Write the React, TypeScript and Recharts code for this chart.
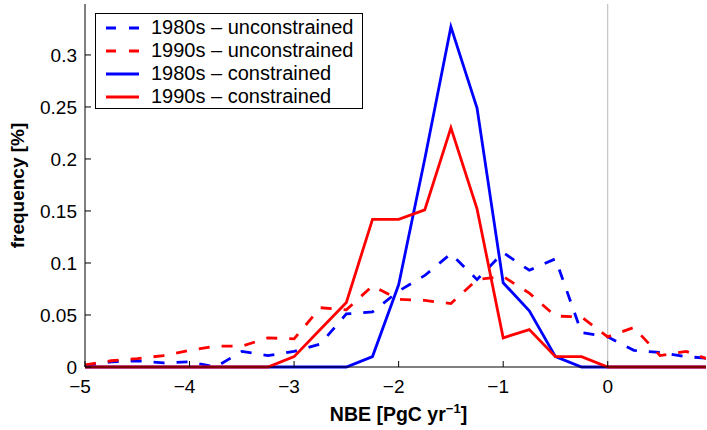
import { LineChart, Line, XAxis, YAxis, ReferenceLine, Legend, Label } from 'recharts';

// NBE bin centres [PgC/yr]
const nbe = [
  -5, -4.75, -4.5, -4.25, -4, -3.75, -3.5, -3.25, -3, -2.75, -2.5, -2.25,
  -2, -1.75, -1.5, -1.25, -1, -0.75, -0.5, -0.25, 0, 0.25, 0.5, 0.75, 1,
];

// frequency values
const unc1980s = [
  0.001, 0.005, 0.006, 0.004, 0.005, 0.0, 0.015, 0.011, 0.015, 0.022, 0.051, 0.053,
  0.073, 0.088, 0.109, 0.084, 0.11, 0.093, 0.104, 0.033, 0.029, 0.016, 0.014, 0.01, 0.008,
];
const unc1990s = [
  0.002, 0.006, 0.008, 0.011, 0.016, 0.02, 0.02, 0.028, 0.027, 0.057, 0.055, 0.078,
  0.065, 0.064, 0.061, 0.084, 0.087, 0.071, 0.049, 0.048, 0.029, 0.038, 0.011, 0.015, 0.006,
];
const con1980s = [
  0, 0, 0, 0, 0, 0, 0, 0, 0, 0, 0, 0.01,
  0.079, 0.2, 0.327, 0.249, 0.081, 0.054, 0.01, 0, 0, 0, 0, 0, 0,
];
const con1990s = [
  0, 0, 0, 0, 0, 0, 0, 0, 0.01, 0.036, 0.062, 0.142,
  0.142, 0.151, 0.23, 0.152, 0.028, 0.036, 0.01, 0.01, 0, 0, 0, 0, 0,
];

const xTicks = [-5, -4, -3, -2, -1, 0];
const yTicks = [0, 0.05, 0.1, 0.15, 0.2, 0.25, 0.3];

const data = nbe.map((x, i) => ({
  x,
  unc1980s: unc1980s[i],
  unc1990s: unc1990s[i],
  con1980s: con1980s[i],
  con1990s: con1990s[i],
}));

const series = [
  { key: 'unc1980s', name: '1980s \u2013 unconstrained', color: '#0000ff', dashed: true },
  { key: 'unc1990s', name: '1990s \u2013 unconstrained', color: '#ff0000', dashed: true },
  { key: 'con1980s', name: '1980s \u2013 constrained', color: '#0000ff', dashed: false },
  { key: 'con1990s', name: '1990s \u2013 constrained', color: '#ff0000', dashed: false },
];

const FONT = '"Liberation Sans", Arial, Helvetica, sans-serif';
const tickStyle = { fill: '#000', fontSize: 19, fontFamily: FONT };

// x tick label: minus sign, negative labels sit a little left like the original
const XTick = (props: any) => {
  const { x, y, payload } = props;
  const v = payload.value as number;
  return (
    <text
      x={v < 0 ? x - 5 : x}
      y={y}
      dy="0.71em"
      textAnchor="middle"
      fill="#000"
      fontSize={19}
      fontFamily={FONT}
    >
      {v < 0 ? '\u2212' + Math.abs(v) : String(v)}
    </text>
  );
};

const renderLegend = () => (
  <div
    style={{
      width: 268,
      height: 96,
      border: '1px solid #000',
      background: '#fff',
      boxSizing: 'border-box',
      fontFamily: FONT,
      fontSize: 20,
      color: '#000',
      paddingTop: 2,
    }}
  >
    {series.map((s) => (
      <div key={s.key} style={{ display: 'flex', alignItems: 'center', height: 23 }}>
        <svg width={33} height={4} style={{ marginLeft: 10, marginRight: 12 }}>
          <line
            x1={0}
            y1={2}
            x2={33}
            y2={2}
            stroke={s.color}
            strokeWidth={2.8}
            strokeDasharray={s.dashed ? '10 13' : undefined}
          />
        </svg>
        <span style={{ whiteSpace: 'nowrap' }}>{s.name}</span>
      </div>
    ))}
  </div>
);

const XTitle = (props: any) => {
  const vb = props.viewBox;
  return (
    <text
      x={vb.x + vb.width / 2 + 3}
      y={vb.y + 54}
      textAnchor="middle"
      fontFamily={FONT}
      fontSize={19.5}
      fontWeight="bold"
      fill="#000"
    >
      NBE [PgC yr
      <tspan dy={-8} fontSize={13}>
        {'\u22121'}
      </tspan>
      <tspan dy={8}>]</tspan>
    </text>
  );
};

const YTitle = (props: any) => {
  const vb = props.viewBox;
  const cx = 24;
  const cy = vb.y + vb.height / 2;
  return (
    <text
      x={cx}
      y={cy}
      transform={`rotate(-90, ${cx}, ${cy})`}
      textAnchor="middle"
      fontFamily={FONT}
      fontSize={19}
      fontWeight="bold"
      fill="#000"
    >
      frequency [%]
    </text>
  );
};

export default function App() {
  return (
    <div style={{ position: 'absolute', left: 0, top: 0, background: '#fff' }}>
      <LineChart width={707} height={430} data={data} margin={{ top: 4, right: 1, left: 0, bottom: 0 }}>
        <XAxis
          dataKey="x"
          type="number"
          domain={[-5, 0.94]}
          ticks={xTicks}
          allowDataOverflow
          height={63}
          tickSize={-6}
          tickMargin={19}
          stroke="#000"
          tick={<XTick />}
        >
          <Label content={XTitle} />
        </XAxis>
        <XAxis
          xAxisId="top"
          orientation="top"
          type="number"
          domain={[-5, 0.94]}
          ticks={xTicks}
          allowDataOverflow
          height={0}
          tickSize={-6}
          tick={false}
          stroke="#000"
        />
        <YAxis
          type="number"
          domain={[0, 0.349]}
          ticks={yTicks}
          width={85}
          tickSize={-6}
          tickMargin={14}
          stroke="#000"
          tick={tickStyle}
        >
          <Label content={YTitle} />
        </YAxis>
        <YAxis
          yAxisId="right"
          orientation="right"
          type="number"
          domain={[0, 0.349]}
          ticks={yTicks}
          width={0}
          tickSize={-6}
          tick={false}
          stroke="#000"
        />
        <ReferenceLine x={0} stroke="#b8b8b8" strokeWidth={1} />
        {series.map((s) => (
          <Line
            key={s.key}
            dataKey={s.key}
            name={s.name}
            stroke={s.color}
            strokeWidth={2.8}
            strokeDasharray={s.dashed ? '11 12' : undefined}
            dot={false}
            activeDot={false}
            isAnimationActive={false}
          />
        ))}
        <Legend
          content={renderLegend}
          layout="vertical"
          align="center"
          verticalAlign="middle"
          wrapperStyle={{ left: 95, top: 13, width: 'auto' }}
        />
      </LineChart>
    </div>
  );
}
